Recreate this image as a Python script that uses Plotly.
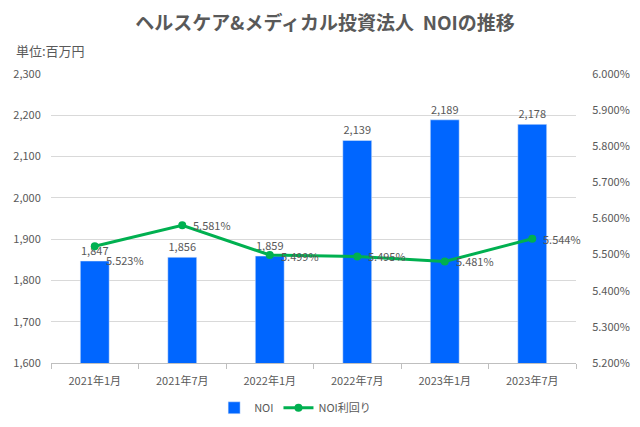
import plotly.graph_objects as go

categories = ["2021年1月", "2021年7月", "2022年1月", "2022年7月", "2023年1月", "2023年7月"]
noi = [1847, 1856, 1859, 2139, 2189, 2178]
noi_yield = [5.523, 5.581, 5.499, 5.495, 5.481, 5.544]
# pixel offsets of the yield labels relative to their points (style only)
label_shift_y = [-14, 0, -1, 0, 0, 0]

FONT = "Noto Sans CJK JP, Open Sans, sans-serif"
GRAY = "#595959"
CLEAR = "rgba(0,0,0,0)"

fig = go.Figure()
fig.add_trace(go.Bar(
    x=categories, y=noi, name="NOI",
    marker=dict(color="#0066FF"),
    width=0.33,
    texttemplate="%{y:,}", textposition="outside",
    textfont=dict(size=11, color=GRAY, family=FONT),
    cliponaxis=False,
))
fig.add_trace(go.Scatter(
    x=categories, y=noi_yield, name="NOI利回り", yaxis="y2",
    mode="lines+markers",
    line=dict(color="#00B050", width=3),
    marker=dict(size=8, color="#00B050"),
    cliponaxis=False,
))

for c, v, dy in zip(categories, noi_yield, label_shift_y):
    fig.add_annotation(x=c, y=v, xref="x", yref="y2", text=f"{v:.3f}%",
                       showarrow=False, xanchor="left", yanchor="middle",
                       xshift=9, yshift=dy,
                       font=dict(size=11, color=GRAY, family=FONT))

fig.update_layout(
    width=640, height=427,
    margin=dict(l=51, r=64, t=74, b=64, autoexpand=False),
    paper_bgcolor="white", plot_bgcolor="white",
    font=dict(family=FONT, color=GRAY, size=11),
    title=dict(text="<b>ヘルスケア&メディカル投資法人  NOIの推移</b>",
               x=0.508, xanchor="center", y=0.945, yanchor="middle",
               font=dict(size=19, color=GRAY, family=FONT)),
    bargap=0.6,
    xaxis=dict(
        showline=True, linecolor="#BFBFBF", linewidth=1,
        ticks="outside", tickson="boundaries", ticklen=5, tickcolor="#BFBFBF",
        tickfont=dict(size=11, color=GRAY), ticklabelstandoff=8,
        showgrid=False, range=[-0.5, 5.5],
    ),
    yaxis=dict(
        range=[1600, 2300], dtick=100, tickformat=",",
        showgrid=True, gridcolor="#D9D9D9", gridwidth=1,
        zeroline=False, tickfont=dict(size=11, color=GRAY),
        ticks="outside", ticklen=7, tickcolor=CLEAR, showline=False,
    ),
    yaxis2=dict(
        range=[5.2, 6.0], dtick=0.1, tickformat=".3f", ticksuffix="%",
        overlaying="y", side="right", showgrid=False, zeroline=False,
        tickfont=dict(size=11, color=GRAY),
        ticks="outside", ticklen=13, tickcolor=CLEAR,
    ),
    legend=dict(orientation="h", x=0.465, xanchor="center", y=-0.155, yanchor="middle",
                font=dict(size=11, color=GRAY), itemwidth=30),
    showlegend=True,
)

fig.add_annotation(text="単位:百万円", xref="paper", yref="paper",
                   x=-0.071, y=1.083, xanchor="left", yanchor="middle",
                   showarrow=False, font=dict(size=13, color=GRAY, family=FONT))

fig.write_html("out.html")
